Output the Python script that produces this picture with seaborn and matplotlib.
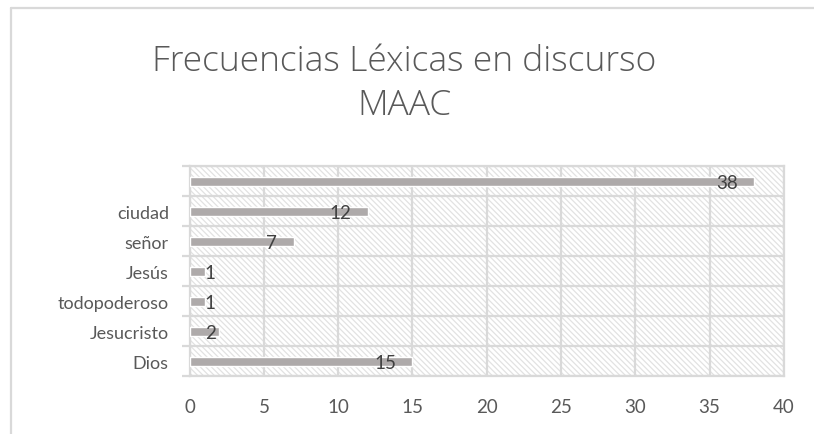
import matplotlib.pyplot as plt
import pandas as pd
import seaborn as sns
from matplotlib.patches import Rectangle
from matplotlib.lines import Line2D

# Datos (de arriba hacia abajo, como en el gráfico)
palabras = ["", "ciudad", "señor", "Jesús", "todopoderoso", "Jesucristo", "Dios"]
frecuencias = [38, 12, 7, 1, 1, 2, 15]
ticks_x = [0, 5, 10, 15, 20, 25, 30, 35, 40]

df = pd.DataFrame({"palabra": palabras, "frecuencia": frecuencias})

sns.set_theme(style="white")
plt.rcParams['font.family'] = ['Lato', 'DejaVu Sans']
plt.rcParams['hatch.linewidth'] = 0.9

gris_txt = '#595959'
gris_grid = '#d9d9d9'

fig = plt.figure(figsize=(8.14, 4.35), dpi=100)
ax = fig.add_axes([0.233, 0.133, 0.73, 0.483])

# Fondo rayado
ax.add_patch(Rectangle((0, 0), 1, 1, transform=ax.transAxes, facecolor='white',
                       edgecolor='#e2e2e2', hatch='\\\\\\\\\\\\', lw=0, zorder=0))

sns.barplot(data=df, x='frecuencia', y='palabra', orient='h', color='#aeaaaa',
            saturation=1, width=0.3, ax=ax, zorder=2)

ax.set_xlim(0, 40)
ax.set_ylim(len(palabras) - 0.5, -0.5)
ax.set_xticks(ticks_x)
ax.set_yticks(range(len(palabras)))
ax.set_yticklabels(palabras)
ax.set_yticks([i - 0.5 for i in range(len(palabras) + 1)], minor=True)
ax.set_xlabel('')
ax.set_ylabel('')

ax.set_axisbelow(True)
ax.grid(True, axis='x', which='major', color=gris_grid, lw=1.6)
ax.grid(True, axis='y', which='minor', color=gris_grid, lw=1.6)
for s in ax.spines.values():
    s.set_color(gris_grid)
    s.set_linewidth(1.6)
    s.set_zorder(1)

ax.tick_params(axis='x', length=0, pad=16, labelsize=13.5, labelcolor=gris_txt)
ax.tick_params(axis='y', which='major', length=0, pad=15, labelsize=13, labelcolor=gris_txt)
ax.tick_params(axis='y', which='minor', left=True, length=6, width=1.6, color=gris_grid)

# Etiquetas de datos
for i, v in enumerate(frecuencias):
    ax.text(max(v - 1.1, 1.75), i + 0.06, str(v), ha='right', va='center',
            fontsize=13.5, color='#404040', zorder=3)

# Título
fig.text(0.497, 0.808, 'Frecuencias Léxicas en discurso\nMAAC', ha='center', va='center',
         fontsize=25.5, fontweight='light', color=gris_txt, linespacing=1.35,
         family=['Open Sans', 'DejaVu Sans'])

# Borde exterior
fig.add_artist(Line2D([11 / 814, 11 / 814], [0, 1 - 9 / 435], color=gris_grid, lw=1.6))
fig.add_artist(Line2D([11 / 814, 1], [1 - 9 / 435, 1 - 9 / 435], color=gris_grid, lw=1.6))

fig.savefig('out.png', dpi=100)
